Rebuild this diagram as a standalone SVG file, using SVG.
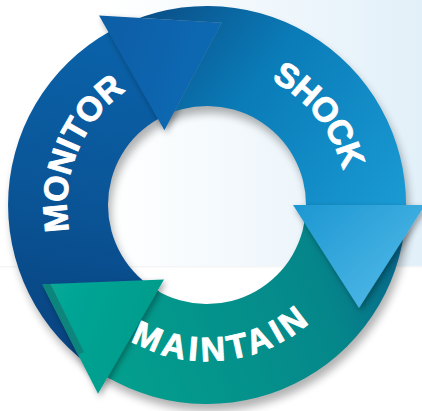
<svg xmlns="http://www.w3.org/2000/svg" width="422" height="411" viewBox="0 0 422 411">
<defs>
  <style>
    .lbl { font-family: "Liberation Sans", Arial, sans-serif; font-weight: bold; font-size: 34px; fill: #ffffff; stroke: #ffffff; stroke-width: 0.9px; stroke-linejoin: round; }
  </style>
  <linearGradient id="bg" x1="0" y1="0" x2="422" y2="0" gradientUnits="userSpaceOnUse">
    <stop offset="0.25" stop-color="#ffffff"/>
    <stop offset="1" stop-color="#e2f0f9"/>
  </linearGradient>
  <linearGradient id="gMonBody" x1="90" y1="370" x2="150" y2="40" gradientUnits="userSpaceOnUse">
    <stop offset="0" stop-color="#08427f"/>
    <stop offset="0.5" stop-color="#0a5597"/>
    <stop offset="1" stop-color="#0a62a9"/>
  </linearGradient>
  <linearGradient id="gMonHead" x1="100" y1="20" x2="220" y2="60" gradientUnits="userSpaceOnUse">
    <stop offset="0" stop-color="#0a5da5"/>
    <stop offset="1" stop-color="#0b6ab4"/>
  </linearGradient>
  <linearGradient id="gShkBody" x1="140" y1="20" x2="400" y2="220" gradientUnits="userSpaceOnUse">
    <stop offset="0" stop-color="#0a4f88"/>
    <stop offset="0.4" stop-color="#0a7cb8"/>
    <stop offset="1" stop-color="#1a9bd4"/>
  </linearGradient>
  <linearGradient id="gShkHead" x1="300" y1="205" x2="380" y2="300" gradientUnits="userSpaceOnUse">
    <stop offset="0" stop-color="#1e98d2"/>
    <stop offset="1" stop-color="#4ab5e5"/>
  </linearGradient>
  <linearGradient id="gMntBody" x1="400" y1="230" x2="110" y2="340" gradientUnits="userSpaceOnUse">
    <stop offset="0" stop-color="#08648b"/>
    <stop offset="0.3" stop-color="#05868a"/>
    <stop offset="1" stop-color="#039e8d"/>
  </linearGradient>
  <linearGradient id="gMntHead" x1="160" y1="330" x2="45" y2="285" gradientUnits="userSpaceOnUse">
    <stop offset="0" stop-color="#039b8b"/>
    <stop offset="1" stop-color="#07a898"/>
  </linearGradient>
  <filter id="blur" x="-10%" y="-10%" width="120%" height="120%">
    <feGaussianBlur stdDeviation="4"/>
  </filter>
  <filter id="hs" x="-30%" y="-30%" width="160%" height="160%">
    <feDropShadow dx="2" dy="3" stdDeviation="3" flood-color="#000000" flood-opacity="0.35"/>
  </filter>
  <clipPath id="cutMonHead">
    <path clip-rule="evenodd" d="M-10 -10H440V420H-10Z M99 15.6L221.7 22.8L164.4 130.3Z"/>
  </clipPath>
  <path id="pMon" d="M96.7 291.2 A140 140 0 0 1 187.5 66.4"/>
  <path id="pShk" d="M185.8 66.6 A140 140 0 0 1 337.4 255.9"/>
  <path id="pMnt" d="M81.6 297.8 A156 156 0 0 0 350.1 267.2"/>
</defs>

<g id="background">
  <rect x="0" y="0" width="422" height="411" fill="#ffffff"/>
  <rect x="0" y="0" width="422" height="266" fill="url(#bg)"/>
  <rect x="0" y="266" width="422" height="1.5" fill="#000000" opacity="0.04"/>
</g>

<g id="ring-shadow">
  <path d="M210 212 m-199 0 a199 199 0 1 0 398 0 a199 199 0 1 0 -398 0 Z M210 212 m-99 0 a99 99 0 1 1 198 0 a99 99 0 1 1 -198 0 Z" fill="#000000" fill-rule="evenodd" opacity="0.3" filter="url(#blur)"/>
</g>

<g id="node-monitor">
  <path d="M110.5 379.0 A199 199 0 0 1 110.5 31.0 L159.0 118.4 A99 99 0 0 0 159.0 291.6 Z" fill="url(#gMonBody)"/>
  <path d="M99 15.6 L221.7 22.8 L164.4 130.3 Z" fill="url(#gMonHead)" filter="url(#hs)"/>
  <text class="lbl" letter-spacing="0"><textPath href="#pMon" startOffset="50%" text-anchor="middle">MONITOR</textPath></text>
</g>

<g id="node-maintain">
  <path d="M406 205 A199 199 0 0 1 104.5 375.6 L156.0 289.9 A99 99 0 0 0 306 205 Z" fill="url(#gMntBody)"/>
  <g filter="url(#hs)">
    <path d="M164 279.5 L98 393.8 L42.3 284.3 Z" fill="url(#gMntHead)"/>
    <path d="M42.3 284.3 L50.5 284 L84 352 L78 355 Z" fill="#0a857c"/>
  </g>
  <text class="lbl" letter-spacing="4"><textPath href="#pMnt" startOffset="50%" text-anchor="middle">MAINTAIN</textPath></text>
</g>

<g id="node-shock">
  <path d="M108.4 32.1 A199 199 0 0 1 406.0 208.5 L306.0 206.7 A99 99 0 0 0 157.9 119.0 Z" fill="url(#gShkBody)" clip-path="url(#cutMonHead)"/>
  <path d="M293 205 L425 205 L359 308 Z" fill="url(#gShkHead)" filter="url(#hs)"/>
  <text class="lbl" letter-spacing="-1"><textPath href="#pShk" startOffset="50%" text-anchor="middle">SHOCK</textPath></text>
</g>
</svg>
